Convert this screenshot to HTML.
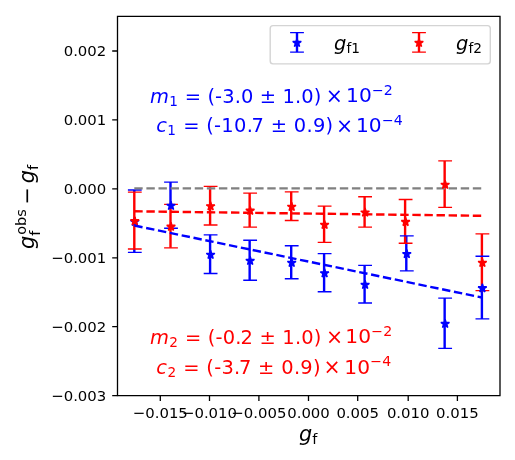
<!DOCTYPE html>
<html><head><meta charset="utf-8"><title>plot</title>
<style>html,body{margin:0;padding:0;background:#fff;overflow:hidden}svg{display:block}</style>
</head><body>
<svg width="515" height="460" viewBox="0 0 515 460" font-family="'DejaVu Sans', 'Liberation Sans', sans-serif">
<rect width="515" height="460" fill="#fff"/>
<path d="M134.3 190V192.1M134.3 249V252.3M170.5 182.1V204.4M210.1 234.8V273.5M249.65 240.2V280.2M291.2 245.7V278.7M324.1 253.6V291.7M364.6 265.4V303M406.3 235.9V270.9M444.65 298.1V348.3M481.9 290.6V318.9" stroke="#0000ff" stroke-width="2.4" fill="none"/>
<path d="M134.3 192.1V249M170.5 204.4V247.8M210.1 186.3V225M249.65 193.1V227.1M291.2 191.8V220.5M324.1 206.1V242.4M364.6 196.7V227.1M405.1 199.5V243.2M444.65 160.9V207.4M481.9 233.9V290.6" stroke="#ff0000" stroke-width="2.4" fill="none"/>
<path d="M127.9 190H141.7M127.9 252.3H141.7M164.1 182.1H177.9M164.1 228.2H177.9M203.7 234.8H217.5M203.7 273.5H217.5M243.25 240.2H257.05M243.25 280.2H257.05M284.8 245.7H298.6M284.8 278.7H298.6M317.7 253.6H331.5M317.7 291.7H331.5M358.2 265.4H372M358.2 303H372M399.9 235.9H413.7M399.9 270.9H413.7M438.25 298.1H452.05M438.25 348.3H452.05M475.5 256.3H489.3M475.5 318.9H489.3" stroke="#0000ff" stroke-width="1.35" fill="none"/>
<path d="M127.9 192.1H141.7M127.9 249H141.7M164.1 204.4H177.9M164.1 247.8H177.9M203.7 186.3H217.5M203.7 225H217.5M243.25 193.1H257.05M243.25 227.1H257.05M284.8 191.8H298.6M284.8 220.5H298.6M317.7 206.1H331.5M317.7 242.4H331.5M358.2 196.7H372M358.2 227.1H372M398.7 199.5H412.5M398.7 243.2H412.5M438.25 160.9H452.05M438.25 207.4H452.05M475.5 233.9H489.3M475.5 290.6H489.3" stroke="#ff0000" stroke-width="1.35" fill="none"/>
<path d="M134.3 188.35L481.9 188.35" stroke="#808080" stroke-width="2.4" stroke-dasharray="8.4 3.69" fill="none"/>
<path d="M134.3 211.3L481.9 215.8" stroke="#ff0000" stroke-width="2.4" stroke-dasharray="8.4 3.69" fill="none"/>
<path d="M134.3 225.5L481.9 297.5" stroke="#0000ff" stroke-width="2.4" stroke-dasharray="8.4 3.69" fill="none"/>
<path d="M134.8 217.25 L133.79 220.36 L130.52 220.36 L133.17 222.28 L132.15 225.39 L134.8 223.47 L137.45 225.39 L136.43 222.28 L139.08 220.36 L135.81 220.36ZM171 201.25 L169.99 204.36 L166.72 204.36 L169.37 206.28 L168.35 209.39 L171 207.47 L173.65 209.39 L172.63 206.28 L175.28 204.36 L172.01 204.36ZM210.6 250.25 L209.59 253.36 L206.32 253.36 L208.97 255.28 L207.95 258.39 L210.6 256.47 L213.25 258.39 L212.23 255.28 L214.88 253.36 L211.61 253.36ZM250.15 256.3 L249.14 259.41 L245.87 259.41 L248.52 261.33 L247.5 264.44 L250.15 262.52 L252.8 264.44 L251.78 261.33 L254.43 259.41 L251.16 259.41ZM291.7 258.3 L290.69 261.41 L287.42 261.41 L290.07 263.33 L289.05 266.44 L291.7 264.52 L294.35 266.44 L293.33 263.33 L295.98 261.41 L292.71 261.41ZM324.6 268.75 L323.59 271.86 L320.32 271.86 L322.97 273.78 L321.95 276.89 L324.6 274.97 L327.25 276.89 L326.23 273.78 L328.88 271.86 L325.61 271.86ZM365.1 280.3 L364.09 283.41 L360.82 283.41 L363.47 285.33 L362.45 288.44 L365.1 286.52 L367.75 288.44 L366.73 285.33 L369.38 283.41 L366.11 283.41ZM406.8 249.5 L405.79 252.61 L402.52 252.61 L405.17 254.53 L404.15 257.64 L406.8 255.72 L409.45 257.64 L408.43 254.53 L411.08 252.61 L407.81 252.61ZM445.15 319.3 L444.14 322.41 L440.87 322.41 L443.52 324.33 L442.5 327.44 L445.15 325.52 L447.8 327.44 L446.78 324.33 L449.43 322.41 L446.16 322.41ZM482.4 283.7 L481.39 286.81 L478.12 286.81 L480.77 288.73 L479.75 291.84 L482.4 289.92 L485.05 291.84 L484.03 288.73 L486.68 286.81 L483.41 286.81Z" fill="#0000ff" stroke="#0000ff" stroke-width="1.4" stroke-linejoin="bevel"/>
<path d="M134.8 216.65 L133.79 219.76 L130.52 219.76 L133.17 221.68 L132.15 224.79 L134.8 222.87 L137.45 224.79 L136.43 221.68 L139.08 219.76 L135.81 219.76ZM171 222.2 L169.99 225.31 L166.72 225.31 L169.37 227.23 L168.35 230.34 L171 228.42 L173.65 230.34 L172.63 227.23 L175.28 225.31 L172.01 225.31ZM210.6 201.75 L209.59 204.86 L206.32 204.86 L208.97 206.78 L207.95 209.89 L210.6 207.97 L213.25 209.89 L212.23 206.78 L214.88 204.86 L211.61 204.86ZM250.15 206.2 L249.14 209.31 L245.87 209.31 L248.52 211.23 L247.5 214.34 L250.15 212.42 L252.8 214.34 L251.78 211.23 L254.43 209.31 L251.16 209.31ZM291.7 202.25 L290.69 205.36 L287.42 205.36 L290.07 207.28 L289.05 210.39 L291.7 208.47 L294.35 210.39 L293.33 207.28 L295.98 205.36 L292.71 205.36ZM324.6 220.35 L323.59 223.46 L320.32 223.46 L322.97 225.38 L321.95 228.49 L324.6 226.57 L327.25 228.49 L326.23 225.38 L328.88 223.46 L325.61 223.46ZM365.1 208 L364.09 211.11 L360.82 211.11 L363.47 213.03 L362.45 216.14 L365.1 214.22 L367.75 216.14 L366.73 213.03 L369.38 211.11 L366.11 211.11ZM405.6 217.45 L404.59 220.56 L401.32 220.56 L403.97 222.48 L402.95 225.59 L405.6 223.67 L408.25 225.59 L407.23 222.48 L409.88 220.56 L406.61 220.56ZM445.15 180.25 L444.14 183.36 L440.87 183.36 L443.52 185.28 L442.5 188.39 L445.15 186.47 L447.8 188.39 L446.78 185.28 L449.43 183.36 L446.16 183.36ZM482.4 258.35 L481.39 261.46 L478.12 261.46 L480.77 263.38 L479.75 266.49 L482.4 264.57 L485.05 266.49 L484.03 263.38 L486.68 261.46 L483.41 261.46Z" fill="#ff0000" stroke="#ff0000" stroke-width="1.4" stroke-linejoin="bevel"/>
<path d="M117.5 395.6V16.3H500.0V395.6Z" fill="none" stroke="#000" stroke-width="1.3" stroke-linejoin="miter" stroke-linecap="square"/>
<path d="M160.3 395.6v5.3M209.5 395.6v5.3M258.9 395.6v5.3M308.5 395.6v5.3M357.7 395.6v5.3M408.2 395.6v5.3M457.4 395.6v5.3M117.5 51h-5.3M117.5 119.9h-5.3M117.5 188.9h-5.3M117.5 257.8h-5.3M117.5 326.7h-5.3M117.5 395.6h-5.3" stroke="#000" stroke-width="1.3" fill="none"/>
<text x="160.3" y="417.5" text-anchor="middle" font-size="14.9">−0.015</text>
<text x="209.5" y="417.5" text-anchor="middle" font-size="14.9">−0.010</text>
<text x="258.9" y="417.5" text-anchor="middle" font-size="14.9">−0.005</text>
<text x="308.5" y="417.5" text-anchor="middle" font-size="14.9">0.000</text>
<text x="357.7" y="417.5" text-anchor="middle" font-size="14.9">0.005</text>
<text x="408.2" y="417.5" text-anchor="middle" font-size="14.9">0.010</text>
<text x="457.4" y="417.5" text-anchor="middle" font-size="14.9">0.015</text>
<text x="106.3" y="56.4" text-anchor="end" font-size="14.9">0.002</text>
<text x="106.3" y="125.3" text-anchor="end" font-size="14.9">0.001</text>
<text x="106.3" y="194.3" text-anchor="end" font-size="14.9">0.000</text>
<text x="106.3" y="263.2" text-anchor="end" font-size="14.9">−0.001</text>
<text x="106.3" y="332.1" text-anchor="end" font-size="14.9">−0.002</text>
<text x="106.3" y="401" text-anchor="end" font-size="14.9">−0.003</text>
<g transform="translate(308.6 441)" fill="#000"><text style="font-size:20.8px"><tspan x="-9.5" y="-0.23" style="font-style:italic">g</tspan><tspan x="3.67" y="3.21" style="font-size:14.56px">f</tspan></text></g>
<g transform="translate(34.8 206.5) rotate(-90)" fill="#000"><text style="font-size:20.8px"><tspan x="-42.5" y="-0.6" style="font-style:italic">g</tspan><tspan x="-28.35" y="-8.83" style="font-size:14.56px">o</tspan><tspan x="-19.46" y="-8.83" style="font-size:14.56px">b</tspan><tspan x="-10.24" y="-8.83" style="font-size:14.56px">s</tspan><tspan x="-29.33" y="5.14" style="font-size:14.56px">f</tspan><tspan x="1.94" y="-0.6">−</tspan><tspan x="23.37" y="-0.6" style="font-style:italic">g</tspan><tspan x="36.54" y="2.85" style="font-size:14.56px">f</tspan></text></g>
<rect x="270.2" y="25.6" width="220.1" height="38.3" rx="2.8" fill="#fff" fill-opacity="0.8" stroke="#d4d4d4" stroke-width="1.4"/>
<path d="M297.0 32.55V52.05" stroke="#0000ff" stroke-width="2.4"/>
<path d="M290.1 32.55H303.9M290.1 52.05H303.9" stroke="#0000ff" stroke-width="1.35"/>
<path d="M297 38.4 L295.99 41.51 L292.72 41.51 L295.37 43.43 L294.35 46.54 L297 44.62 L299.65 46.54 L298.63 43.43 L301.28 41.51 L298.01 41.51Z" fill="#0000ff" stroke="#0000ff" stroke-width="1.4" stroke-linejoin="bevel"/>
<g transform="translate(334 50.3)" fill="#000"><text style="font-size:19.5px"><tspan x="0" y="-0.8" style="font-style:italic">g</tspan><tspan x="12.38" y="2.48" style="font-size:13.65px">f</tspan><tspan x="17.18" y="2.48" style="font-size:13.65px">1</tspan></text></g>
<path d="M419.0 32.55V52.05" stroke="#ff0000" stroke-width="2.4"/>
<path d="M412.1 32.55H425.9M412.1 52.05H425.9" stroke="#ff0000" stroke-width="1.35"/>
<path d="M419 38.4 L417.99 41.51 L414.72 41.51 L417.37 43.43 L416.35 46.54 L419 44.62 L421.65 46.54 L420.63 43.43 L423.28 41.51 L420.01 41.51Z" fill="#ff0000" stroke="#ff0000" stroke-width="1.4" stroke-linejoin="bevel"/>
<g transform="translate(456 50.3)" fill="#000"><text style="font-size:19.5px"><tspan x="0" y="-0.8" style="font-style:italic">g</tspan><tspan x="12.38" y="2.48" style="font-size:13.65px">f</tspan><tspan x="17.18" y="2.48" style="font-size:13.65px">2</tspan></text></g>
<g transform="translate(150 103.4)" fill="#0000ff"><text style="font-size:19.44px"><tspan x="0" y="-0.58" style="font-style:italic">m</tspan><tspan x="19.17" y="2.54" style="font-size:13.61px">1</tspan><tspan x="34.71" y="-0.58">=</tspan><tspan x="57.45" y="-0.58">(</tspan><tspan x="65.12" y="-0.58">-</tspan><tspan x="72.22" y="-0.58">3</tspan><tspan x="84.74" y="-0.58">.</tspan><tspan x="91" y="-0.58">0</tspan><tspan x="109.77" y="-0.58">±</tspan><tspan x="132.51" y="-0.58">1</tspan><tspan x="145.03" y="-0.58">.</tspan><tspan x="151.28" y="-0.58">0</tspan><tspan x="163.8" y="-0.58">)</tspan></text></g>
<g transform="translate(325.73 103.4)" fill="#0000ff"><text style="font-size:20.4px"><tspan x="0" y="-0.08">×</tspan></text></g>
<g transform="translate(346.03 103.4)" fill="#0000ff"><text style="font-size:20.2px"><tspan x="0" y="-0.95">1</tspan><tspan x="12.88" y="-0.95">0</tspan><tspan x="25.96" y="-8.61" style="font-size:14.14px">−</tspan><tspan x="37.84" y="-8.61" style="font-size:14.14px">2</tspan></text></g>
<g transform="translate(150 132.6)" fill="#0000ff"><text style="font-size:19.44px"><tspan x="6.36" y="-0.58" style="font-style:italic">c</tspan><tspan x="17.36" y="2.54" style="font-size:13.61px">1</tspan><tspan x="33.16" y="-0.58">=</tspan><tspan x="56.29" y="-0.58">(</tspan><tspan x="64.09" y="-0.58">-</tspan><tspan x="71.31" y="-0.58">1</tspan><tspan x="84.04" y="-0.58">0</tspan><tspan x="96.77" y="-0.58">.</tspan><tspan x="101.59" y="-0.58">7</tspan><tspan x="120.68" y="-0.58">±</tspan><tspan x="143.8" y="-0.58">0</tspan><tspan x="156.53" y="-0.58">.</tspan><tspan x="162.89" y="-0.58">9</tspan><tspan x="175.62" y="-0.58">)</tspan></text></g>
<g transform="translate(336.05 132.6)" fill="#0000ff"><text style="font-size:20.4px"><tspan x="0" y="-0.08">×</tspan></text></g>
<g transform="translate(355.95 132.6)" fill="#0000ff"><text style="font-size:20.2px"><tspan x="0" y="-0.14">1</tspan><tspan x="12.88" y="-0.14">0</tspan><tspan x="25.96" y="-7.8" style="font-size:14.14px">−</tspan><tspan x="37.84" y="-7.8" style="font-size:14.14px">4</tspan></text></g>
<g transform="translate(150 344.4)" fill="#ff0000"><text style="font-size:19.44px"><tspan x="0" y="-0.58" style="font-style:italic">m</tspan><tspan x="19.3" y="2.54" style="font-size:13.61px">2</tspan><tspan x="34.95" y="-0.58">=</tspan><tspan x="57.85" y="-0.58">(</tspan><tspan x="65.58" y="-0.58">-</tspan><tspan x="72.72" y="-0.58">0</tspan><tspan x="85.33" y="-0.58">.</tspan><tspan x="90.48" y="-0.58">2</tspan><tspan x="109.39" y="-0.58">±</tspan><tspan x="132.28" y="-0.58">1</tspan><tspan x="144.89" y="-0.58">.</tspan><tspan x="151.19" y="-0.58">0</tspan><tspan x="163.79" y="-0.58">)</tspan></text></g>
<g transform="translate(326.1 344.4)" fill="#ff0000"><text style="font-size:20.4px"><tspan x="0" y="-0.08">×</tspan></text></g>
<g transform="translate(345.3 344.4)" fill="#ff0000"><text style="font-size:20.2px"><tspan x="0" y="-0.95">1</tspan><tspan x="12.88" y="-0.95">0</tspan><tspan x="25.96" y="-8.61" style="font-size:14.14px">−</tspan><tspan x="37.84" y="-8.61" style="font-size:14.14px">2</tspan></text></g>
<g transform="translate(150 374.2)" fill="#ff0000"><text style="font-size:19.44px"><tspan x="6.37" y="-0.58" style="font-style:italic">c</tspan><tspan x="17.38" y="2.54" style="font-size:13.61px">2</tspan><tspan x="33.19" y="-0.58">=</tspan><tspan x="56.34" y="-0.58">(</tspan><tspan x="64.15" y="-0.58">-</tspan><tspan x="71.38" y="-0.58">3</tspan><tspan x="84.12" y="-0.58">.</tspan><tspan x="88.95" y="-0.58">7</tspan><tspan x="108.05" y="-0.58">±</tspan><tspan x="131.2" y="-0.58">0</tspan><tspan x="143.94" y="-0.58">.</tspan><tspan x="150.31" y="-0.58">9</tspan><tspan x="163.05" y="-0.58">)</tspan></text></g>
<g transform="translate(323.51 374.2)" fill="#ff0000"><text style="font-size:20.4px"><tspan x="0" y="-0.08">×</tspan></text></g>
<g transform="translate(344.31 374.2)" fill="#ff0000"><text style="font-size:20.2px"><tspan x="0" y="-0.14">1</tspan><tspan x="12.88" y="-0.14">0</tspan><tspan x="25.96" y="-7.8" style="font-size:14.14px">−</tspan><tspan x="37.84" y="-7.8" style="font-size:14.14px">4</tspan></text></g>
</svg>
</body></html>
